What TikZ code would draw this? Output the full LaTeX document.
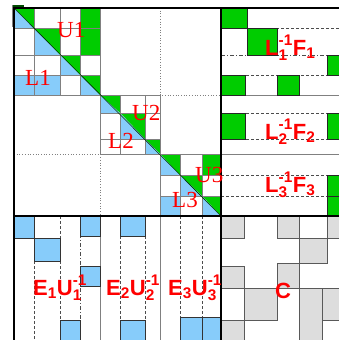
\documentclass[tikz,border=0pt]{standalone}
\usepackage{amsmath}
\usepackage{fontspec}
\newfontfamily\lblserif{Liberation Serif}
\newfontfamily\lblsans{Liberation Sans}
\definecolor{facgreen}{RGB}{0,204,0}
\definecolor{facblue}{RGB}{135,204,250}
\definecolor{facgray}{RGB}{221,221,221}
\definecolor{lblred}{RGB}{255,0,0}
\tikzset{
	mainline/.style={line width=2.4pt},
	gridline/.style={draw=gray, line width=0.7pt},
	partline/.style={draw=gray, line width=0.7pt, dotted},
	dashline/.style={draw=black!70, line width=0.6pt, dash pattern=on 3pt off 2pt},
	dotdashline/.style={draw=black!70, line width=0.6pt, dash pattern=on 4pt off 2pt on 1pt off 2pt},
	greenbox/.style={fill=facgreen, draw=black!85, line width=0.6pt},
	bluebox/.style={fill=facblue, draw=black!80, line width=0.6pt},
	graybox/.style={fill=facgray, draw=black!65, line width=0.6pt},
	serlabel/.style={text=lblred, inner sep=0pt, anchor=base west, font=\lblserif\fontsize{23}{23}\selectfont},
	sanlabel/.style={text=lblred, inner sep=0pt, anchor=base west, font=\lblsans\bfseries\fontsize{22}{22}\selectfont}
}

\begin{document}
\begin{tikzpicture}[x=1pt,y=-1pt]
		\useasboundingbox (0,0) rectangle (339,340);
		% diagonal blocks
		\foreach \xa/\ya/\xb/\yb in {14/8/34/28, 34/28/60/55, 60/55/80/75, 80/75/100/95, 100/95/120/113, 120/113/145/139, 145/139/160/154, 160/154/180/175, 180/175/202/196, 202/196/221/216} {
			\fill[facgreen] (\xa,\ya) -- (\xb,\ya) -- (\xb,\yb) -- cycle;
			\fill[facblue] (\xa,\ya) -- (\xa,\yb) -- (\xb,\yb) -- cycle;
		}
		\fill[facgreen] (80,8) rectangle (100,55);
		\fill[facgreen] (202,154) rectangle (221,175);
		\fill[facblue] (14,75) rectangle (60,95);
		\fill[facblue] (160,196) rectangle (180,216);
		\foreach \xv in {34,60,80} \draw[gridline] (\xv,8) -- (\xv,95);
		\foreach \yv in {28,55,75} \draw[gridline] (14,\yv) -- (100,\yv);
		\foreach \xv in {120,145} \draw[gridline] (\xv,95) -- (\xv,154);
		\foreach \yv in {113,139} \draw[gridline] (100,\yv) -- (160,\yv);
		\foreach \xv in {180,202} \draw[gridline] (\xv,154) -- (\xv,216);
		\foreach \yv in {175,196} \draw[gridline] (160,\yv) -- (221,\yv);
		\draw[gridline] (14,95) -- (100,95) -- (100,8);
		\draw[gridline] (100,95) rectangle (160,154);
		\draw[gridline] (160,216) -- (160,154) -- (221,154);
		\draw[partline] (160,8) -- (160,95) -- (221,95);
		\draw[partline] (14,154) -- (100,154) -- (100,216);
		\draw[line width=0.6pt, black!80!green] (14,8) -- (221,216);
		\draw[gray, line width=0.6pt] (12,5) -- (12,27);
		\fill[black!70!green] (13,5) rectangle (24,7.5);

		% right: L^-1 F
		\foreach \yv in {28,75,113,139,175,196} \draw[dashline] (221,\yv) -- (339,\yv);
		\draw[dotdashline] (221,55) -- (339,55);
		\foreach \yv in {95,154} \draw[gridline] (221,\yv) -- (339,\yv);
		\draw[greenbox] (221,8) rectangle (247,28);
		\draw[greenbox] (247,28) rectangle (277,55);
		\draw[greenbox] (327,55) rectangle (341,75);
		\draw[greenbox] (221,75) rectangle (245,95);
		\draw[greenbox] (277,75) rectangle (299,95);
		\draw[greenbox] (221,113) rectangle (245,139);
		\draw[greenbox] (327,113) rectangle (341,139);
		\draw[greenbox] (327,175) rectangle (341,196);
		\draw[greenbox] (327,196) rectangle (341,218);

		% bottom: E U^-1
		\foreach \xv in {34,60,120,145,180,202} \draw[dashline] (\xv,216) -- (\xv,340);
		\draw[dotdashline] (80,216) -- (80,340);
		\foreach \xv in {100,160} \draw[gridline] (\xv,216) -- (\xv,340);
		\draw[bluebox] (14,216) rectangle (34,238);
		\draw[bluebox] (34,238) rectangle (60,261);
		\draw[bluebox] (80,216) rectangle (100,236);
		\draw[bluebox] (80,266) rectangle (100,286);
		\draw[bluebox] (60,320) rectangle (80,342);
		\draw[bluebox] (120,216) rectangle (145,236);
		\draw[bluebox] (120,320) rectangle (145,342);
		\draw[bluebox] (180,317) rectangle (202,342);
		\draw[bluebox] (202,317) rectangle (221,342);

		% corner: C
		\draw[graybox] (221,216) rectangle (244,238);
		\draw[graybox] (277,216) rectangle (299,238);
		\draw[graybox] (327,216) rectangle (341,238);
		\draw[graybox] (299,238) rectangle (327,263);
		\draw[graybox] (221,266) rectangle (244,288);
		\draw[graybox] (277,263) rectangle (299,288);
		\draw[graybox] (244,288) rectangle (277,320);
		\draw[graybox] (299,288) rectangle (322,342);
		\draw[graybox] (322,288) rectangle (341,320);
		\draw[graybox] (221,320) rectangle (244,342);
		\draw[black!65, line width=0.6pt] (221,288) -- (339,288);

		\draw[mainline] (14,8) -- (339,8);
		\draw[mainline] (14,6.8) -- (14,340);
		\draw[mainline] (221,8) -- (221,340);
		\draw[mainline] (14,216) -- (339,216);

		\node[serlabel] (u1) at (57,37) {U1};
		\node[serlabel] (l1) at (25,85) {L1};
		\node[serlabel] (u2) at (132,120) {U2};
		\node[serlabel] (l2) at (108,148) {L2};
		\node[serlabel] (u3) at (195,182) {U3};
		\node[serlabel] (l3) at (172,207) {L3};
		\node[sanlabel] (f1) at (265,55) {$\text{L}_{\text{1}}^{\text{-1}}\text{F}_{\text{1}}$};
		\node[sanlabel] (f2) at (265,139) {$\text{L}_{\text{2}}^{\text{-1}}\text{F}_{\text{2}}$};
		\node[sanlabel] (f3) at (265,192) {$\text{L}_{\text{3}}^{\text{-1}}\text{F}_{\text{3}}$};
		\node[sanlabel] (e1) at (33,295) {$\text{E}_{\text{1}}\text{U}_{\text{1}}^{\text{-1}}$};
		\node[sanlabel] (e2) at (106,295) {$\text{E}_{\text{2}}\text{U}_{\text{2}}^{\text{-1}}$};
		\node[sanlabel] (e3) at (168,295) {$\text{E}_{\text{3}}\text{U}_{\text{3}}^{\text{-1}}$};
		\node[sanlabel] (cc) at (275,298) {C};
\end{tikzpicture}
\end{document}
